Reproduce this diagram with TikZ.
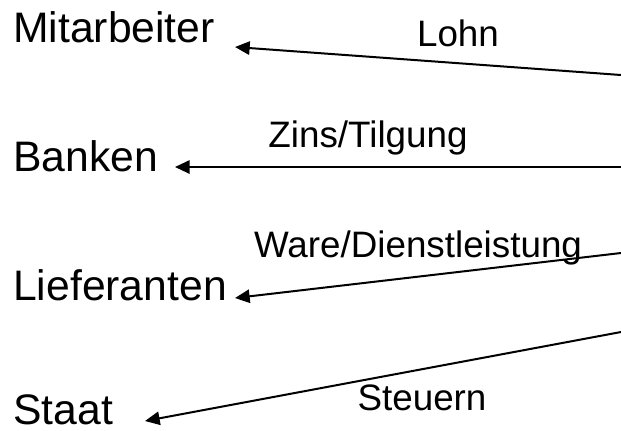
\documentclass[tikz,border=0pt]{standalone}
\usepackage{fontspec}
\setmainfont{Liberation Sans}
\usetikzlibrary{arrows.meta}
\tikzset{partner/.style={font=\fontsize{32}{36}\selectfont, inner sep=0pt, anchor=base west}}

\begin{document}
\begin{tikzpicture}[x=0.75pt, y=-0.75pt]
\tikzstyle{flowlabel} = [font=\fontsize{27.6}{32}\selectfont, inner sep=0pt, anchor=base]
\tikzstyle{flow} = [line width=1.5pt, -{Triangle[length=11pt, width=10pt]}]
\useasboundingbox (0,0) rectangle (621,430);

\node (mitarbeiter) [partner] at (13,42) {Mitarbeiter};
\node (banken) [partner] at (13,171) {Banken};
\node (lieferanten) [partner] at (13,300) {Lieferanten};
\node (staat) [partner] at (13,424) {Staat};

% outgoing end points at the right edge
\coordinate (out1) at (621,75);
\coordinate (out2) at (621,167);
\coordinate (out3) at (621,253);
\coordinate (out4) at (621,332);
% arrow tips in front of the names
\coordinate (in1) at (235,47);
\coordinate (in2) at (175,167);
\coordinate (in3) at (235,298);
\coordinate (in4) at (145,421);

\draw [flow] (out1) -- (in1);
\draw [flow] (out2) -- (in2);
\draw [flow] (out3) -- (in3);
\draw [flow] (out4) -- (in4);

\node (lohn) [flowlabel] at (458,46) {Lohn};
\node (zins) [flowlabel] at (368,147) {Zins/Tilgung};
\node (ware) [flowlabel] at (418,257) {Ware/Dienstleistung};
\node (steuern) [flowlabel] at (422,410) {Steuern};

\end{tikzpicture}
\end{document}
